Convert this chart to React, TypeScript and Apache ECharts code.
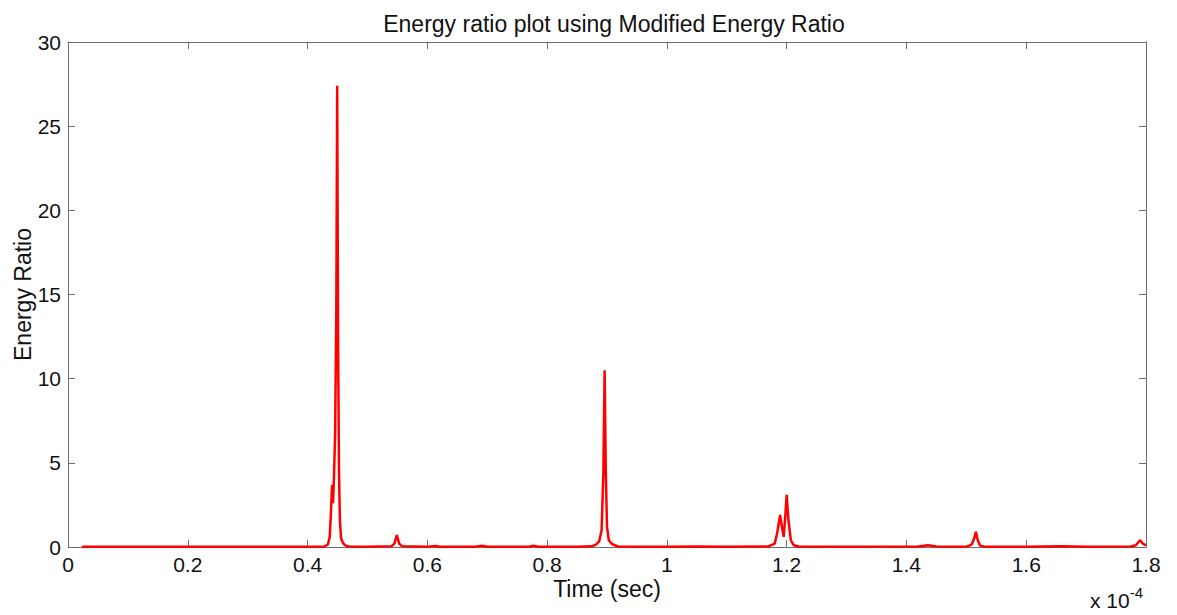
import React, { useEffect, useRef } from "react";
import * as echarts from "echarts";

// Time in units of 1e-4 s
const timeE4 = [
  0.023, 0.1, 0.2, 0.3, 0.4, 0.428, 0.434, 0.437, 0.439, 0.441, 0.4425, 0.444, 0.446, 0.448, 0.4495, 0.451,
  0.4525, 0.454, 0.456, 0.459, 0.463, 0.468, 0.5, 0.54, 0.545, 0.549, 0.553, 0.558, 0.6, 0.615, 0.62, 0.68,
  0.691, 0.7, 0.77, 0.777, 0.785, 0.85, 0.875, 0.882, 0.887, 0.891, 0.894, 0.896, 0.898, 0.9, 0.903, 0.908,
  0.912, 0.918, 0.95, 1.0, 1.05, 1.1, 1.17, 1.18, 1.184, 1.189, 1.192, 1.195, 1.198, 1.2, 1.203, 1.207,
  1.212, 1.22, 1.3, 1.42, 1.436, 1.45, 1.5, 1.505, 1.509, 1.513, 1.516, 1.519, 1.523, 1.53, 1.6, 1.66,
  1.7, 1.775, 1.783, 1.79, 1.795, 1.8,
];
const energyRatio = [
  0.02, 0.02, 0.02, 0.02, 0.02, 0.03, 0.15, 0.6, 2.0, 3.7, 2.6, 4.0, 6.7, 14, 27.4, 12,
  4.5, 1.6, 0.5, 0.25, 0.1, 0.03, 0.02, 0.04, 0.2, 0.7, 0.2, 0.04, 0.02, 0.06, 0.02, 0.02,
  0.07, 0.02, 0.02, 0.07, 0.02, 0.02, 0.04, 0.15, 0.35, 1.0, 4.5, 10.5, 4.5, 1.2, 0.4, 0.18,
  0.12, 0.03, 0.02, 0.02, 0.03, 0.02, 0.03, 0.2, 0.8, 1.9, 1.2, 0.6, 2.0, 3.1, 1.6, 0.4,
  0.1, 0.03, 0.02, 0.03, 0.1, 0.03, 0.02, 0.08, 0.15, 0.5, 0.9, 0.4, 0.08, 0.02, 0.02, 0.04,
  0.02, 0.03, 0.1, 0.4, 0.2, 0.1,
];
const xTicks = [0, 0.2, 0.4, 0.6, 0.8, 1, 1.2, 1.4, 1.6, 1.8];
const yTicks = [0, 5, 10, 15, 20, 25, 30];

const FONT = "'Liberation Sans', Arial, Helvetica, sans-serif";
const AXIS = "#6e6e6e";

export default function App() {
  const ref = useRef<HTMLDivElement>(null);
  useEffect(() => {
    if (!ref.current) return;
    const chart = echarts.init(ref.current, undefined, { renderer: "svg" });
    const fmtX = (v: number) => {
      const s = xTicks.find((t) => Math.abs(t - v) < 1e-9);
      return s === undefined ? "" : String(+s.toFixed(1));
    };
    const common = {
      axisLine: { show: true, onZero: false, lineStyle: { color: AXIS, width: 1 } },
      axisTick: { show: true, inside: true, length: 7, lineStyle: { color: AXIS } },
      splitLine: { show: false },
    };
    chart.setOption({
      animation: false,
      backgroundColor: "#ffffff",
      title: {
        text: "Energy ratio plot using Modified Energy Ratio",
        left: 609,
        top: 7,
        textAlign: "center",
        textStyle: { fontFamily: FONT, fontSize: 23, fontWeight: "normal", color: "#111" },
      },
      grid: { left: 68, right: 31, top: 42, bottom: 68, containLabel: false, outerBoundsMode: "none" },
      xAxis: [
        {
          ...common,
          type: "value",
          min: 0,
          max: 1.8,
          interval: 0.2,
          position: "bottom",
          name: "Time (sec)",
          nameLocation: "middle",
          nameGap: 30,
          nameMoveOverlap: false,
          nameTextStyle: { fontFamily: FONT, fontSize: 23, color: "#111" },
          axisLabel: { fontFamily: FONT, fontSize: 21, color: "#111", margin: 7, formatter: fmtX },
        },
        {
          ...common,
          type: "value",
          min: 0,
          max: 1.8,
          interval: 0.2,
          position: "top",
          axisLabel: { show: false },
        },
      ],
      yAxis: [
        {
          ...common,
          type: "value",
          min: 0,
          max: 30,
          interval: 5,
          position: "left",
          name: "Energy Ratio",
          nameLocation: "middle",
          nameGap: 34,
          nameMoveOverlap: false,
          nameTextStyle: { fontFamily: FONT, fontSize: 23, color: "#111" },
          axisLabel: {
            fontFamily: FONT,
            fontSize: 21,
            color: "#111",
            margin: 7,
            formatter: (v: number) => (yTicks.includes(v) ? String(v) : ""),
          },
        },
        {
          ...common,
          type: "value",
          min: 0,
          max: 30,
          interval: 5,
          position: "right",
          axisLabel: { show: false },
        },
      ],
      graphic: [
        {
          type: "text",
          left: 1090,
          top: 585,
          style: {
            text: "{a|x 10}{b|-4}",
            rich: {
              a: { fontFamily: FONT, fontSize: 21, fill: "#111", verticalAlign: "bottom", lineHeight: 26 },
              b: { fontFamily: FONT, fontSize: 15, fill: "#111", verticalAlign: "top", lineHeight: 26, padding: [0, 0, 10, 0] },
            },
          },
        },
      ],
      series: [
        {
          type: "line",
          xAxisIndex: 0,
          yAxisIndex: 0,
          data: timeE4.map((t, i) => [t, energyRatio[i]]),
          showSymbol: false,
          symbol: "none",
          lineStyle: { color: "#ff0000", width: 2.5 },
          clip: true,
        },
      ],
    });
    return () => chart.dispose();
  }, []);
  return <div ref={ref} style={{ position: "fixed", left: 0, top: 0, width: 1177, height: 615 }} />;
}
